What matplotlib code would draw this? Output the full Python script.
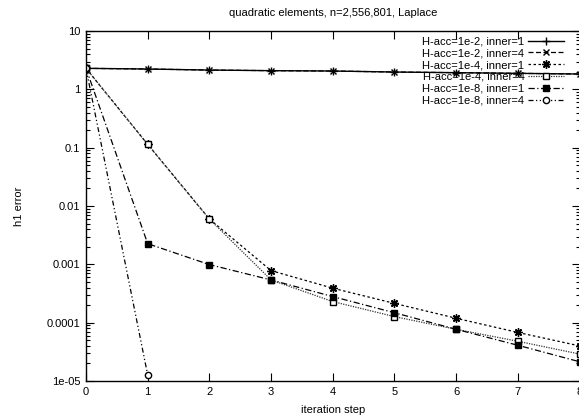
import matplotlib
matplotlib.use("Agg")
import matplotlib.pyplot as plt
from matplotlib.ticker import LogLocator, NullFormatter, FixedLocator

plt.rcParams["font.family"] = ["Liberation Sans", "DejaVu Sans"]
plt.rcParams["font.size"] = 8

# ---------------------------------------------------------------------------
# Data
# ---------------------------------------------------------------------------
steps = [0, 1, 2, 3, 4, 5, 6, 7, 8]

acc2_inner1 = [2.29, 2.23, 2.14, 2.09, 2.06, 1.98, 1.93, 1.88, 1.83]
acc2_inner4 = [2.29, 2.23, 2.14, 2.09, 2.06, 1.98, 1.93, 1.88, 1.83]
acc4_inner1 = [2.29, 0.114, 5.98e-3, 7.8e-4, 3.9e-4, 2.14e-4, 1.19e-4, 6.8e-5, 4.0e-5]
acc4_inner4 = [2.29, 0.114, 5.98e-3, 5.4e-4, 2.3e-4, 1.27e-4, 7.7e-5, 4.8e-5, 2.9e-5]
acc8_inner1 = [2.29, 2.26e-3, 9.9e-4, 5.4e-4, 2.8e-4, 1.48e-4, 7.7e-5, 4.1e-5, 2.14e-5]
acc8_inner4_steps = [0, 1]
acc8_inner4 = [2.29, 1.27e-5]

labels = [
    "H-acc=1e-2, inner=1",
    "H-acc=1e-2, inner=4",
    "H-acc=1e-4, inner=1",
    "H-acc=1e-4, inner=4",
    "H-acc=1e-8, inner=1",
    "H-acc=1e-8, inner=4",
]

W, H = 579, 416
fig = plt.figure(figsize=(W / 100, H / 100), dpi=100)
ax = fig.add_axes([86 / W, (H - 381) / H, (579.5 - 86) / W, 350 / H])

ax.plot(steps, acc2_inner1, color="black", lw=1.0, ls="-",
        marker="+", ms=6, mew=1.0, label=labels[0])
ax.plot(steps, acc2_inner4, color="black", lw=0.9, ls=(0, (4, 2)),
        marker="x", ms=5, mew=1.0, label=labels[1])
ax.plot(steps, acc4_inner1, color="black", lw=0.9, ls=(0, (2, 2)),
        marker=(8, 2, 0), ms=6, mew=1.0, label=labels[2])
ax.plot(steps, acc4_inner4, color="#333333", lw=0.9, ls=(0, (1, 1)),
        marker="s", ms=5, mfc="white", mec="black", mew=1.0, label=labels[3])
ax.plot(steps, acc8_inner1, color="black", lw=0.9, ls=(0, (5, 2, 1, 2)),
        marker="s", ms=5, mfc="black", mec="black", label=labels[4])
ax.plot(acc8_inner4_steps, acc8_inner4, color="black", lw=0.9,
        ls=(0, (4, 2, 1, 2, 1, 2)),
        marker="o", ms=4.5, mfc="white", mec="black", mew=1.0, label=labels[5])

ax.set_yscale("log")
ax.set_xlim(0, 8)
ax.set_ylim(1e-5, 10)
ax.xaxis.set_major_locator(FixedLocator(steps))
ax.set_yticks([1e-5, 1e-4, 1e-3, 1e-2, 0.1, 1, 10])
ax.set_yticklabels(["1e-05", "0.0001", "0.001", "0.01", "0.1", "1", "10"])
ax.yaxis.set_minor_locator(LogLocator(base=10, subs=range(2, 10), numticks=20))
ax.yaxis.set_minor_formatter(NullFormatter())

ax.tick_params(which="both", direction="in", top=True, right=True, width=0.8)
ax.tick_params(which="major", length=6, pad=4)
ax.tick_params(which="minor", length=3)
for s in ax.spines.values():
    s.set_linewidth(1.0)

ax.set_xlabel("iteration step", labelpad=6)
ax.set_ylabel("h1 error", labelpad=16)
ax.set_title("quadratic elements, n=2,556,801, Laplace", fontsize=8, pad=11)

ax.legend(loc="upper right", bbox_to_anchor=(570 / W, (H - 31) / H),
          bbox_transform=fig.transFigure, frameon=False, markerfirst=False,
          handlelength=3.3, handletextpad=0.3, labelspacing=0.16,
          borderpad=0, fontsize=8)

fig.savefig("out.png", dpi=100)
